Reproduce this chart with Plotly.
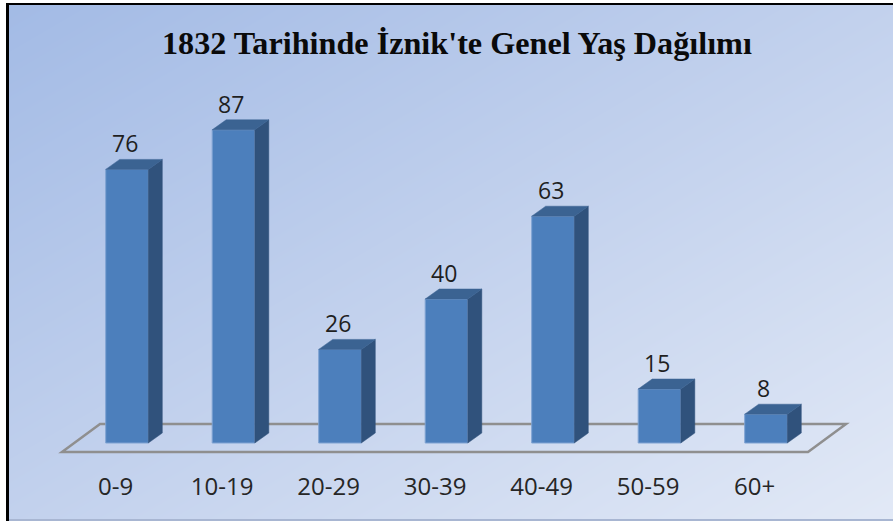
import plotly.graph_objects as go

categories = ["0-9", "10-19", "20-29", "30-39", "40-49", "50-59", "60+"]
values = [76, 87, 26, 40, 63, 15, 8]
title_text = "1832 Tarihinde İznik'te Genel Yaş Dağılımı"

W, H = 893, 521
BAR_W = 0.4
DX = 14 / 106.5     # depth in category units
DY = 10 / 3.6       # depth in value units
TICK_OFFSET = 0.107  # labels sit under the chart floor, left of the bar fronts

fig = go.Figure()

# background gradient (four corner shades)
fig.add_trace(go.Heatmap(
    x=[0, 1], y=[0, 1], z=[[1, 2], [0, 1]], zsmooth="best", zmin=0, zmax=2,
    showscale=False, hoverinfo="skip", xaxis="x", yaxis="y",
    colorscale=[[0, "#a2bae5"], [0.5, "#c2d1ed"], [1, "#e2e9f6"]],
))

xs = list(range(len(categories)))
fig.add_trace(go.Bar(
    x=xs, y=values, width=BAR_W, xaxis="x2", yaxis="y2",
    marker=dict(color="#4c7fbc", line=dict(color="#7fa3d3", width=1)),
    hoverinfo="skip",
))

for i, v in zip(xs, values):
    l, r = i - BAR_W / 2, i + BAR_W / 2
    fig.add_trace(go.Scatter(
        x=[r, r + DX, r + DX, r, r], y=[0, DY, v + DY, v, 0],
        mode="lines", fill="toself", fillcolor="#30527c",
        line=dict(color="#30527c", width=0.5), xaxis="x2", yaxis="y2", hoverinfo="skip",
    ))
    fig.add_trace(go.Scatter(
        x=[l, l + DX, r + DX, r, l], y=[v, v + DY, v + DY, v, v],
        mode="lines", fill="toself", fillcolor="#3b6392",
        line=dict(color="#3b6392", width=0.5), xaxis="x2", yaxis="y2", hoverinfo="skip",
    ))

annotations = [
    dict(x=i - 0.02, y=v, xref="x2", yref="y2", text=str(v), showarrow=False,
         yanchor="bottom", yshift=8, font=dict(family="Open Sans", size=23, color="#1f1f1f"))
    for i, v in zip(xs, values)
]
annotations.append(dict(
    x=457 / W, y=1 - 43.5 / H, xref="paper", yref="paper", text=f"<b>{title_text}</b>",
    xanchor="center", yanchor="middle",
    showarrow=False, font=dict(family="Liberation Serif", size=32.2, color="#0a0a0a"),
))


def page_rect(x0, x1, y0, y1, color):
    return dict(type="rect", xref="paper", yref="paper", x0=x0 / W, x1=x1 / W,
                y0=1 - y1 / H, y1=1 - y0 / H, fillcolor=color, line_width=0, layer="above")


# floor parallelogram, in data coordinates of the bar axes
fl, fr, fb = -0.6103, 6.3944, -2.5
shapes = [
    dict(type="path", xref="x2", yref="y2", layer="below",
         path=f"M {fl} {fb} L {fr} {fb} L {fr + 0.357} {5.3} L {fl + 0.357} {5.3} Z",
         line=dict(color="#8f8f8f", width=2.5), fillcolor="rgba(255,255,255,0)"),
    page_rect(0, 6, 0, H, "#ffffff"),
    page_rect(0, W, 0, 3, "#ffffff"),
    page_rect(6, 9, 3, H, "#000000"),
    page_rect(6, W, 3, 5, "#000000"),
    page_rect(9, W, 519, H, "#a8b6d2"),
]

fig.update_layout(
    width=W, height=H, autosize=False, showlegend=False,
    margin=dict(l=0, r=0, t=0, b=0),
    paper_bgcolor="#ffffff", plot_bgcolor="rgba(0,0,0,0)",
    annotations=annotations, shapes=shapes, barmode="overlay",
    xaxis=dict(domain=[0, 1], range=[0, 1], visible=False),
    yaxis=dict(domain=[0, 1], range=[0, 1], visible=False),
    xaxis2=dict(domain=[0, 1], range=[-127 / 106.5, (W - 127) / 106.5], anchor="y2",
                tickmode="array", tickvals=[i - TICK_OFFSET for i in xs], ticktext=categories,
                showgrid=False, zeroline=False, showline=False, ticks="outside", ticklen=5,
                tickcolor="rgba(0,0,0,0)",
                tickfont=dict(family="Open Sans", size=24, color="#262626")),
    yaxis2=dict(domain=[1 - 460 / H, 1], range=[-17 / 3.6, 443 / 3.6], anchor="x2",
                visible=False),
)
fig.write_html("out.html", config={"displayModeBar": False},
               post_script="document.body.style.margin='0';document.body.style.overflow='hidden';")
